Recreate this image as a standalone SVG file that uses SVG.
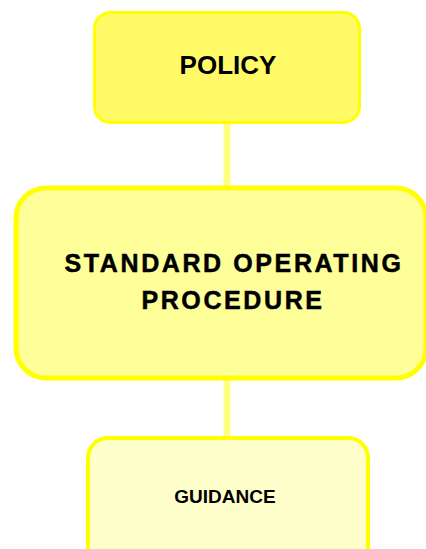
<svg xmlns="http://www.w3.org/2000/svg" width="426" height="549" viewBox="0 0 426 549">
<style>
.lbl{font-family:"Liberation Sans",Arial,sans-serif;font-weight:bold;fill:#000;text-anchor:middle}
.thick{stroke:#000;stroke-width:0.5}
.box{stroke:#FFFF00}
.conn{stroke:#FFFF80;stroke-width:7;fill:none}
</style>
<rect width="426" height="549" fill="#fff"/>
<g id="connectors">
<line class="conn" x1="227" y1="122" x2="227" y2="187"/>
<line class="conn" x1="227" y1="378" x2="227" y2="438"/>
</g>
<g id="policy">
<rect class="box" x="94.5" y="12.5" width="265" height="110" rx="16" fill="#FFFA66" stroke-width="3"/>
<text class="lbl" x="228" y="74" font-size="26">POLICY</text>
</g>
<g id="sop">
<rect class="box" x="16" y="188" width="410" height="190" rx="30" fill="#FFFF99" stroke-width="5"/>
<text class="lbl thick" x="234" y="272" font-size="25" letter-spacing="2.6">STANDARD OPERATING</text>
<text class="lbl thick" x="233" y="309" font-size="25" letter-spacing="2.6">PROCEDURE</text>
</g>
<g id="guidance">
<rect class="box" x="88" y="438" width="280" height="130" rx="20" fill="#FFFFCC" stroke-width="4"/>
<text class="lbl" x="225" y="503" font-size="19">GUIDANCE</text>
</g>
</svg>
